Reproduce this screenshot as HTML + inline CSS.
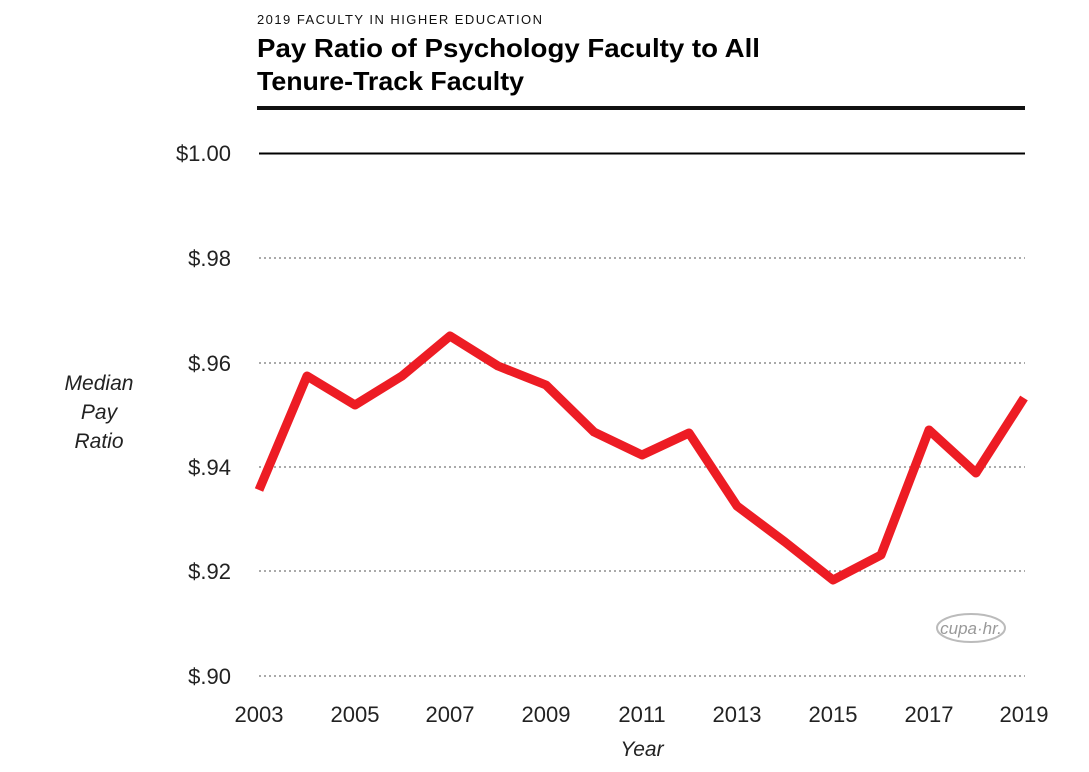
<!DOCTYPE html>
<html><head><meta charset="utf-8"><style>
body{margin:0;background:#fff;}
svg{display:block;font-family:"Liberation Sans",sans-serif;}
</style></head><body>
<svg width="1089" height="772" viewBox="0 0 1089 772" xmlns="http://www.w3.org/2000/svg">
<text x="257" y="24" font-size="13" letter-spacing="1" fill="#111" textLength="286" lengthAdjust="spacing">2019 FACULTY IN HIGHER EDUCATION</text>
<text x="257" y="57" font-size="26" font-weight="bold" fill="#000" textLength="503" lengthAdjust="spacingAndGlyphs">Pay Ratio of Psychology Faculty to All</text>
<text x="257" y="90" font-size="26" font-weight="bold" fill="#000" textLength="267" lengthAdjust="spacingAndGlyphs">Tenure-Track Faculty</text>
<rect x="257" y="106" width="768" height="4" fill="#111"/>
<line x1="259" y1="153.5" x2="1025" y2="153.5" stroke="#000" stroke-width="2"/>
<g stroke="#777" stroke-width="1.3" stroke-dasharray="2,3">
<line x1="259" y1="258" x2="1025" y2="258"/>
<line x1="259" y1="363" x2="1025" y2="363"/>
<line x1="259" y1="467" x2="1025" y2="467"/>
<line x1="259" y1="571" x2="1025" y2="571"/>
<line x1="259" y1="676" x2="1025" y2="676"/>
</g>
<g font-size="22" fill="#222" text-anchor="end">
<text x="231" y="161">$1.00</text>
<text x="231" y="266">$.98</text>
<text x="231" y="371">$.96</text>
<text x="231" y="475">$.94</text>
<text x="231" y="579">$.92</text>
<text x="231" y="684">$.90</text>
</g>
<g font-size="21" font-style="italic" fill="#222" text-anchor="middle">
<text x="99" y="390">Median</text>
<text x="99" y="419">Pay</text>
<text x="99" y="448">Ratio</text>
<text x="642" y="756">Year</text>
</g>
<g font-size="22" fill="#222" text-anchor="middle">
<text x="259" y="722">2003</text><text x="355" y="722">2005</text><text x="450" y="722">2007</text><text x="546" y="722">2009</text><text x="642" y="722">2011</text><text x="737" y="722">2013</text><text x="833" y="722">2015</text><text x="929" y="722">2017</text><text x="1024" y="722">2019</text>
</g>
<polyline fill="none" stroke="#ed1c24" stroke-width="9" stroke-linejoin="round" stroke-linecap="butt"
points="259,490 307,376 355,405 402,376 450,336 498,366 546,385 594,432 642,455 689,433 737,506 785,542 833,580 881,555 929,430 976,473 1024,398"/>
<ellipse cx="971" cy="628" rx="34" ry="14" fill="none" stroke="#bbb" stroke-width="2"/>
<text x="971" y="634" font-size="17" fill="#999" text-anchor="middle" font-style="italic">cupa·hr.</text>
</svg>
</body></html>
